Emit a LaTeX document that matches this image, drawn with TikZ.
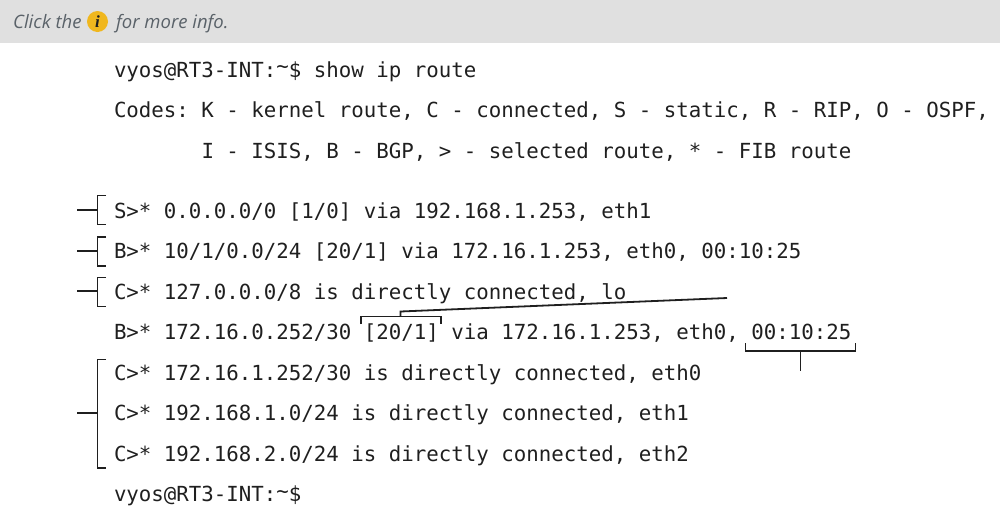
\documentclass[tikz,border=0pt]{standalone}
\usepackage{fontspec}
\setmainfont{Open Sans}
\newfontfamily\codefont{DejaVu Sans Mono}
\definecolor{bar}{HTML}{E0E0E0}
\definecolor{hint}{HTML}{5A6269}
\definecolor{badge}{HTML}{F0B71E}
\definecolor{ink}{HTML}{1F1F1F}
\newcommand{\hightilde}{\raisebox{3.5pt}{\textasciitilde}}
\tikzset{
  code/.style={anchor=base west,inner sep=0pt,outer sep=0pt,text=ink,font=\codefont\frenchspacing\fontsize{20.76}{24}\selectfont},
  hinttext/.style={anchor=base west,inner sep=0pt,text=hint,font=\itshape\fontsize{18.5}{22}\selectfont},
  brace/.style={draw=ink,line width=1.8pt,line cap=butt}
}
\begin{document}
\begin{tikzpicture}[x=1pt,y=-1pt]
\useasboundingbox (0,0) rectangle (1000,520);
\fill[bar] (0,0) rectangle (1000,42.5);
\node[hinttext] (h1) at (13,28) {Click the};
\node[circle,fill=badge,minimum size=21pt,inner sep=0pt,text=ink,font=\fontspec{Liberation Serif}\bfseries\itshape\fontsize{17}{17}\selectfont] (info) at (97.5,21.5) {i};
\node[hinttext] (h2) at (116,28) {for more info.};
\node[code] (l1) at (114,77) {vyos@RT3-INT:\hightilde\$ show ip route};
\node[code] (l2) at (114,117.5) {Codes: K - kernel route, C - connected, S - static, R - RIP, O - OSPF,};
\node[code] (l3) at (201.5,158) {I - ISIS, B - BGP, > - selected route, * - FIB route};
\node[code] (l4) at (114,218) {S>* 0.0.0.0/0 [1/0] via 192.168.1.253, eth1};
\node[code] (l5) at (114,258.5) {B>* 10/1/0.0/24 [20/1] via 172.16.1.253, eth0, 00:10:25};
\node[code] (l6) at (114,299) {C>* 127.0.0.0/8 is directly connected, lo};
\node[code] (l7) at (114,339.5) {B>* 172.16.0.252/30 [20/1] via 172.16.1.253, eth0, 00:10:25};
\node[code] (l8) at (114,380) {C>* 172.16.1.252/30 is directly connected, eth0};
\node[code] (l9) at (114,420.5) {C>* 192.168.1.0/24 is directly connected, eth1};
\node[code] (l10) at (114,461) {C>* 192.168.2.0/24 is directly connected, eth2};
\node[code] (l11) at (114,501.5) {vyos@RT3-INT:\hightilde\$};
% left brackets
\coordinate (a1) at (77,210);  \coordinate (a2) at (97.5,210);
\coordinate (b1) at (77,251);  \coordinate (b2) at (97.5,251);
\coordinate (c1) at (77,291);  \coordinate (c2) at (97.5,291);
\coordinate (d1) at (77,413);  \coordinate (d2) at (97.5,413);
\draw[brace] (106,195.5) -- (97.5,195.5) -- (97.5,224.5) -- (106,224.5);
\draw[brace] (a1) -- (a2);
\draw[brace] (106,237) -- (97.5,237) -- (97.5,266) -- (106,266);
\draw[brace] (b1) -- (b2);
\draw[brace] (106,277.5) -- (97.5,277.5) -- (97.5,306.5) -- (106,306.5);
\draw[brace] (c1) -- (c2);
\draw[brace] (106,359.5) -- (97.5,359.5) -- (97.5,468) -- (106,468);
\draw[brace] (d1) -- (d2);
% metric bracket
\coordinate (m1) at (400.5,316.5);
\coordinate (m2) at (400.5,311.5);
\coordinate (m3) at (727,298);
\draw[brace] (361,324) -- (361,316.5) -- (441,316.5) -- (441,324);
\draw[brace] (m1) -- (m2) -- (m3);
% time bracket
\coordinate (t1) at (800.5,351);
\coordinate (t2) at (800.5,371);
\draw[brace] (745.5,343) -- (745.5,351) -- (855.5,351) -- (855.5,343);
\draw[brace] (t1) -- (t2);
\end{tikzpicture}
\end{document}
